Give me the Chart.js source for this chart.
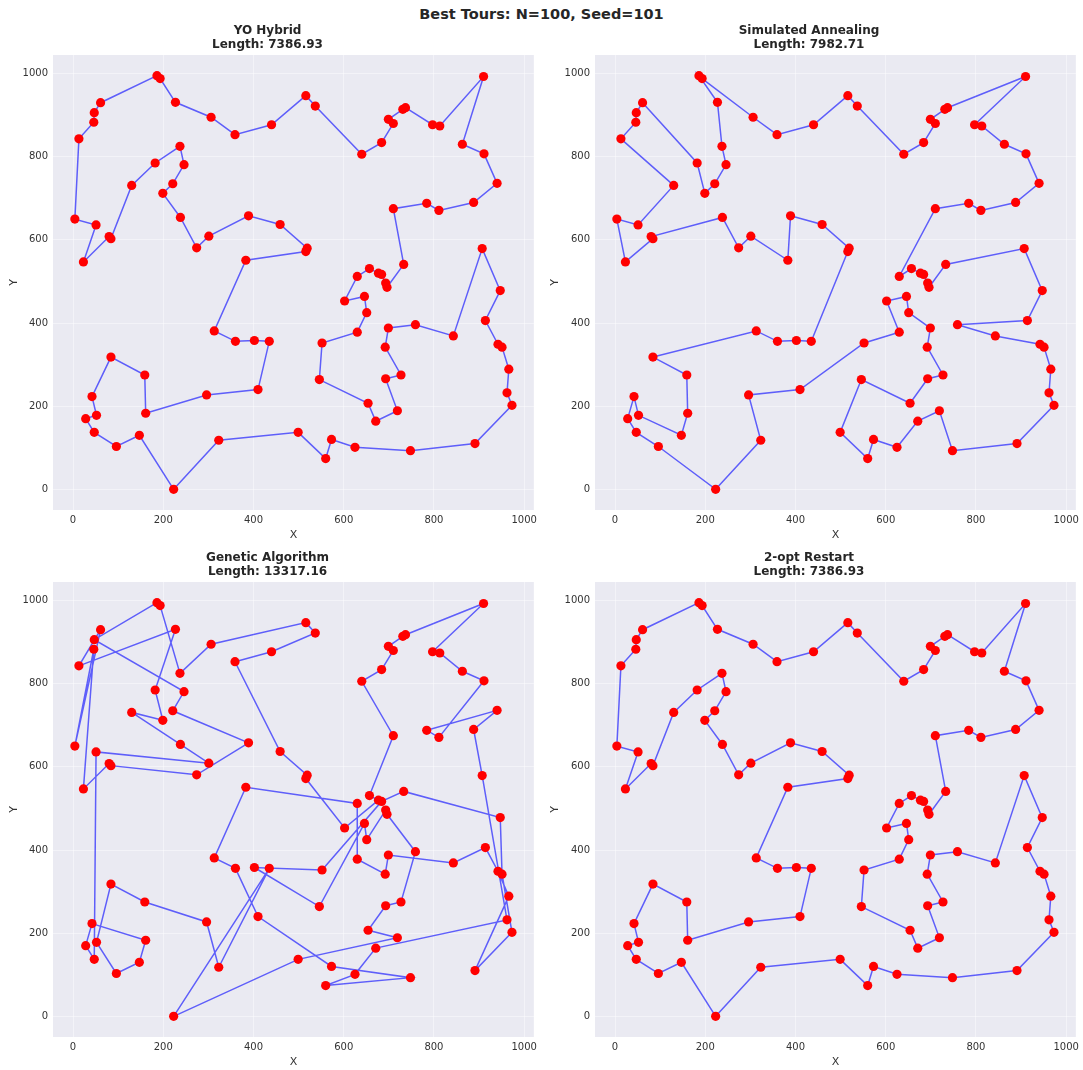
<!DOCTYPE html>
<html>
<head>
<meta charset="utf-8">
<script src="https://cdn.jsdelivr.net/npm/chart.js@4.4.0/dist/chart.umd.min.js"></script>
<style>
  html, body { margin: 0; padding: 0; background: #ffffff; width: 1083px; height: 1070px; overflow: hidden; }
  #suptitle { position: absolute; left: 0; top: 6px; width: 1083px; text-align: center;
              font: bold 14.5px "DejaVu Sans", sans-serif; line-height: 17px; color: #262626; }
  canvas { position: absolute; }
</style>
</head>
<body>
<div id="suptitle">Best Tours: N=100, Seed=101</div>
<canvas id="c0" width="541" height="526" style="left:0px;top:18px"></canvas>
<canvas id="c1" width="542" height="526" style="left:541px;top:18px"></canvas>
<canvas id="c2" width="541" height="526" style="left:0px;top:545px"></canvas>
<canvas id="c3" width="542" height="526" style="left:541px;top:545px"></canvas>
<script>
// City coordinates (N = 100)
const cityX = [223,147,96,47,28,52,42,84,159,161,296,410,435,402,360,313,383,516,519,459,
               389,301,274,238,199,221,246,237,182,130,84,80,23,51,4,13,46,47,61,186,
               193,227,306,359,440,516,537,640,684,710,699,731,737,797,813,910,863,911,940,888,
               811,784,710,733,696,693,684,677,657,630,602,646,651,630,552,546,654,671,719,693,
               727,692,699,759,843,907,947,914,942,951,966,962,973,891,748,625,573,560,499,323];
const cityY = [0,130,103,137,170,178,223,318,275,183,227,240,356,358,356,381,551,572,580,637,
               658,609,581,654,712,735,781,825,785,731,603,608,547,636,650,843,883,906,930,995,
               988,931,895,853,877,947,922,806,834,880,890,914,918,877,874,993,830,807,736,690,
               671,688,675,541,486,496,517,520,531,512,453,464,425,378,352,264,207,164,189,266,
               275,342,388,396,369,579,478,406,349,342,289,232,202,110,93,101,120,74,137,118];

// Visiting order of each method's best tour (indices into the city arrays)
const yoTour = [0,1,2,3,4,5,6,7,8,9,10,11,12,13,14,15,16,17,18,19,20,21,22,23,24,25,26,27,28,29,
                30,31,32,33,34,35,36,37,38,39,40,41,42,43,44,45,46,47,48,49,50,51,52,53,54,55,56,57,58,59,
                60,61,62,63,64,65,66,67,68,69,70,71,72,73,74,75,76,77,78,79,80,81,82,83,84,85,86,87,88,89,
                90,91,92,93,94,95,96,97,98,99];
const saTour = [41,27,26,25,24,28,38,37,36,35,29,33,34,32,30,31,23,22,21,16,
                20,19,18,17,12,13,14,15,7,8,9,1,5,6,4,3,2,0,99,10,
                11,74,73,70,71,72,82,81,80,79,76,75,98,97,96,95,77,78,94,93,
                92,91,90,89,88,84,83,87,86,85,63,64,65,66,67,68,69,62,61,60,
                59,58,57,56,54,53,55,52,51,50,49,48,47,46,45,44,43,42,40,39];
const gaTour = [0,12,99,10,8,7,5,2,1,9,6,4,3,33,21,23,29,24,28,41,
                35,38,34,36,32,31,30,22,20,25,26,37,39,40,27,42,45,46,44,43,
                19,18,17,70,67,68,62,47,48,49,50,51,52,55,53,54,56,57,60,61,
                58,59,85,91,77,95,97,94,96,11,14,15,16,69,73,81,82,84,87,88,
                90,93,92,89,86,63,66,74,13,75,71,72,65,64,83,80,79,76,78,98];
const twoOptTour = [0,1,2,3,4,5,6,7,8,9,10,11,12,13,14,15,16,17,18,19,20,21,22,23,24,25,26,27,28,29,
                30,31,32,33,34,35,36,37,38,39,40,41,42,43,44,45,46,47,48,49,50,51,52,53,54,55,56,57,58,59,
                60,61,62,63,64,65,66,67,68,69,70,71,72,73,74,75,76,77,78,79,80,81,82,83,84,85,86,87,88,89,
                90,91,92,93,94,95,96,97,98,99];

const methodNames = ['YO Hybrid', 'Simulated Annealing', 'Genetic Algorithm', '2-opt Restart'];
const tourLengths = ['7386.93', '7982.71', '13317.16', '7386.93'];
const tickValues = [0, 200, 400, 600, 800, 1000];

// Axis limits with a 5% margin around the data
function paddedRange(vals) {
  const lo = Math.min(...vals), hi = Math.max(...vals);
  const m = (hi - lo) * 0.05;
  return [lo - m, hi + m];
}
const [xMin, xMax] = paddedRange(cityX);
const [yMin, yMax] = paddedRange(cityY);

const FONT = 'DejaVu Sans';
const TEXT = '#262626';

const plotBackground = {
  id: 'plotBackground',
  beforeDraw(chart) {
    const { ctx, chartArea: a } = chart;
    ctx.save();
    ctx.fillStyle = '#EAEAF2';
    ctx.fillRect(a.left, a.top, a.right - a.left, a.bottom - a.top);
    ctx.restore();
  }
};

function axisOptions(isX, yAxisWidth) {
  return {
    type: 'linear',
    position: isX ? 'bottom' : 'left',
    min: isX ? xMin : yMin,
    max: isX ? xMax : yMax,
    afterBuildTicks: s => { s.ticks = tickValues.map(v => ({ value: v })); },
    afterFit: s => { if (isX) s.height = 34; else s.width = yAxisWidth; },
    grid: { color: 'rgba(255,255,255,0.45)', lineWidth: 1, drawTicks: false },
    border: { display: false },
    ticks: {
      font: { family: FONT, size: 10 },
      color: '#333333',
      padding: isX ? 4 : 5,
      maxRotation: 0,
      autoSkip: false,
      callback: v => String(v)
    },
    title: {
      display: true,
      text: isX ? 'X' : 'Y',
      font: { family: FONT, size: 11 },
      color: '#333333',
      padding: isX ? { top: 0, bottom: 2 } : { top: 7.4, bottom: 0 }
    }
  };
}

function drawTour(canvasId, k, tour, yAxisWidth) {
  const cities = cityX.map((x, i) => ({ x: x, y: cityY[i] }));
  const path = tour.map(i => ({ x: cityX[i], y: cityY[i] }));
  path.push({ x: cityX[tour[0]], y: cityY[tour[0]] });

  new Chart(document.getElementById(canvasId), {
    type: 'scatter',
    data: {
      datasets: [
        {
          label: 'cities',
          data: cities,
          pointRadius: 4.6,
          pointBackgroundColor: '#ff0000',
          pointBorderWidth: 0,
          showLine: false,
          order: 0
        },
        {
          label: 'tour',
          data: path,
          showLine: true,
          borderColor: 'rgba(0,0,255,0.6)',
          borderWidth: 1.5,
          pointRadius: 0,
          tension: 0,
          fill: false,
          order: 1
        }
      ]
    },
    options: {
      responsive: false,
      animation: false,
      devicePixelRatio: 1,
      events: [],
      layout: { padding: { left: 0, right: 6, top: 0, bottom: 0 } },
      plugins: {
        legend: { display: false },
        tooltip: { enabled: false },
        title: {
          display: true,
          text: [methodNames[k], 'Length: ' + tourLengths[k]],
          font: { family: FONT, size: 12, weight: 'bold', lineHeight: 1.2 },
          color: TEXT,
          padding: { top: 5.5, bottom: 2.7 }
        }
      },
      scales: {
        x: axisOptions(true, yAxisWidth),
        y: axisOptions(false, yAxisWidth)
      }
    },
    plugins: [plotBackground]
  });
}

drawTour('c0', 0, yoTour, 53);
drawTour('c1', 1, saTour, 54);
drawTour('c2', 2, gaTour, 53);
drawTour('c3', 3, twoOptTour, 54);
</script>
</body>
</html>
